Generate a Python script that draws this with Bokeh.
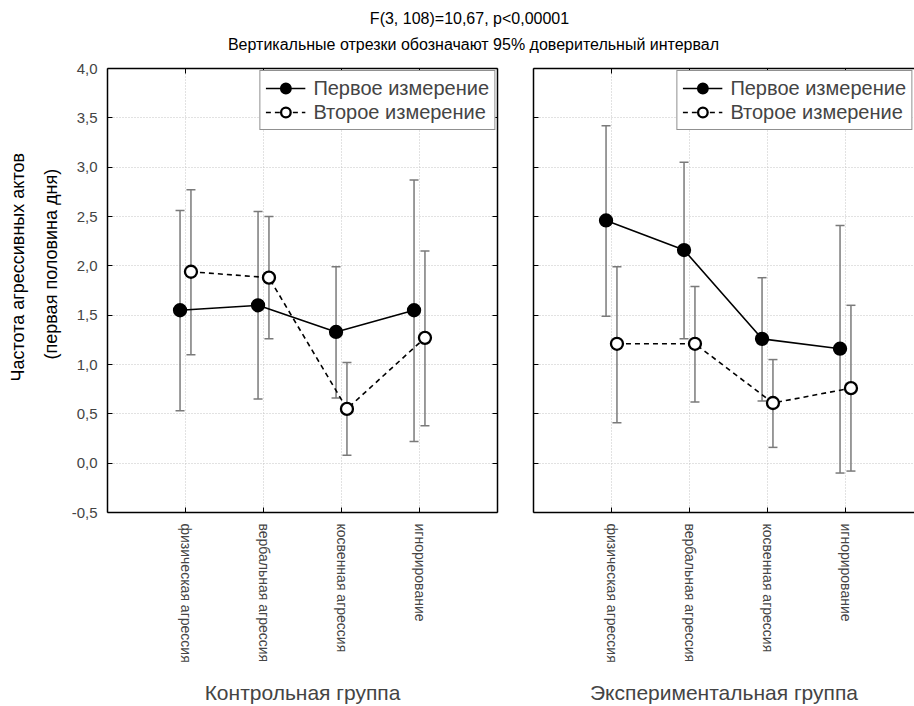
from bokeh.plotting import figure
from bokeh.models import (Range1d, FixedTicker, LinearAxis, CustomJSTickFormatter, Whisker,
                          TeeHead, ColumnDataSource, Legend, LegendItem, Label, Grid, Title)
from bokeh.layouts import column, row
from bokeh.embed import file_html
from bokeh.resources import INLINE

# ---------------- data ----------------
title1 = "F(3, 108)=10,67, p<0,00001"
title2 = "Вертикальные отрезки обозначают 95% доверительный интервал"
y_label_lines = ["Частота агрессивных актов", "(первая половина дня)"]
series_names = ["Первое измерение", "Второе измерение"]
group_names = ["Контрольная группа", "Экспериментальная группа"]

categories = ["физическая агрессия", "вербальная агрессия", "косвенная агрессия", "игнорирование"]
cat_pos = [1, 2, 3, 4]
y_ticks = [-0.5, 0.0, 0.5, 1.0, 1.5, 2.0, 2.5, 3.0, 3.5, 4.0]

# control group
ctrl_m1 = [1.55, 1.60, 1.33, 1.55]
ctrl_m1_lo = [0.53, 0.65, 0.66, 0.22]
ctrl_m1_hi = [2.56, 2.55, 1.99, 2.87]
ctrl_m2 = [1.94, 1.88, 0.55, 1.27]
ctrl_m2_lo = [1.10, 1.26, 0.08, 0.38]
ctrl_m2_hi = [2.77, 2.50, 1.02, 2.15]

# experimental group
exp_m1 = [2.46, 2.16, 1.26, 1.16]
exp_m1_lo = [1.49, 1.26, 0.63, -0.10]
exp_m1_hi = [3.42, 3.05, 1.88, 2.41]
exp_m2 = [1.21, 1.21, 0.61, 0.76]
exp_m2_lo = [0.41, 0.62, 0.16, -0.08]
exp_m2_hi = [1.99, 1.79, 1.05, 1.60]

# ---------------- style ----------------
FONT = "Liberation Sans"
GRAY = "#7a7a7a"
GRID = "#c4c4c4"
FIG_H = 650
OFFSET = 0.07


def strip_grids(p):
    p.center = [r for r in p.center if not isinstance(r, Grid)]


def add_axis(p, place, ticker, labels=True, **kw):
    ax = LinearAxis(ticker=ticker)
    ax.major_tick_in = 5
    ax.major_tick_out = 0
    ax.minor_tick_line_color = None
    ax.axis_line_width = 1.5
    ax.axis_line_color = "black"
    ax.major_tick_line_color = "black"
    if not labels:
        ax.formatter = CustomJSTickFormatter(code="return '';")
        ax.major_label_text_color = None
        ax.major_label_standoff = 0
    for k, v in kw.items():
        setattr(ax, k, v)
    p.add_layout(ax, place)
    return ax


def make_panel(group_label, m1, m1_lo, m1_hi, m2, m2_lo, m2_hi,
               width, border_left, border_right, x_end, first):
    p = figure(width=width, height=FIG_H, x_range=Range1d(0, x_end), y_range=Range1d(-0.5, 4.0),
               output_backend="svg", toolbar_location=None,
               min_border_left=border_left, min_border_right=border_right,
               min_border_top=12, min_border_bottom=189,
               x_axis_location=None, y_axis_location=None)
    strip_grids(p)
    p.outline_line_color = None
    p.background_fill_color = "white"

    # grids
    p.add_layout(Grid(dimension=0, ticker=FixedTicker(ticks=cat_pos), grid_line_color=GRID,
                      grid_line_dash="1 2", grid_line_width=1))
    p.add_layout(Grid(dimension=1, ticker=FixedTicker(ticks=y_ticks), grid_line_color=GRID,
                      grid_line_dash="1 2", grid_line_width=1))

    # axes
    add_axis(p, "below", FixedTicker(ticks=cat_pos),
             major_label_overrides={c: lab for c, lab in zip(cat_pos, categories)},
             major_label_orientation="vertical",
             major_label_text_font=FONT, major_label_text_font_size="14px",
             major_label_standoff=11,
             axis_label=group_label, axis_label_text_font=FONT,
             axis_label_text_font_size="21px", axis_label_text_font_style="normal",
             axis_label_standoff=15)
    add_axis(p, "above", FixedTicker(ticks=cat_pos), labels=False)
    if first:
        add_axis(p, "left", FixedTicker(ticks=y_ticks),
                 formatter=CustomJSTickFormatter(code="return tick.toFixed(1).replace('.', ',');"),
                 major_label_text_font=FONT, major_label_text_font_size="15px",
                 major_label_standoff=10)
        add_axis(p, "right", FixedTicker(ticks=y_ticks), labels=False)
        # two-line y-axis title (inner line added first); offset measured from frame bottom
        p.add_layout(Title(text=y_label_lines[1], align="left", offset=153, standoff=16,
                           text_font=FONT, text_font_size="18px", text_font_style="normal",
                           text_color="black"), "left")
        p.add_layout(Title(text=y_label_lines[0], align="left", offset=131, standoff=5,
                           text_font=FONT, text_font_size="18px", text_font_style="normal",
                           text_color="black"), "left")
    else:
        add_axis(p, "left", FixedTicker(ticks=y_ticks), labels=False)

    x1 = [c - OFFSET for c in cat_pos]
    x2 = [c + OFFSET for c in cat_pos]

    renderers = []
    for xs, ys, lo, hi, dash, fill in ((x1, m1, m1_lo, m1_hi, "solid", "black"),
                                        (x2, m2, m2_lo, m2_hi, "5 4", "white")):
        src = ColumnDataSource(dict(x=xs, y=ys, lo=lo, hi=hi))
        w = Whisker(base="x", lower="lo", upper="hi", source=src, dimension="height",
                    line_color=GRAY, line_width=1.5,
                    upper_head=TeeHead(size=9, line_color=GRAY, line_width=1.5),
                    lower_head=TeeHead(size=9, line_color=GRAY, line_width=1.5))
        p.add_layout(w)
        ln = p.line("x", "y", source=src, line_color="black", line_width=1.6, line_dash=dash)
        sc = p.scatter("x", "y", source=src, size=12, fill_color=fill, line_color="black",
                       line_width=2.3)
        renderers.append((ln, sc))

    legend = Legend(items=[LegendItem(label=series_names[0], renderers=list(renderers[0])),
                           LegendItem(label=series_names[1], renderers=list(renderers[1]))],
                    location="top_right", margin=2, padding=5, spacing=0,
                    label_text_font=FONT, label_text_font_size="20px",
                    glyph_width=40, glyph_height=24, label_height=24, label_standoff=8,
                    border_line_color="#222222", border_line_width=1.2,
                    background_fill_color="white", background_fill_alpha=1.0)
    p.add_layout(legend)
    return p


def blank_fig(width, height):
    f = figure(width=width, height=height, x_range=Range1d(0, width), y_range=Range1d(0, height),
               output_backend="svg", toolbar_location=None, min_border=0,
               x_axis_location=None, y_axis_location=None)
    strip_grids(f)
    f.outline_line_color = None
    return f


p1 = make_panel(group_names[0], ctrl_m1, ctrl_m1_lo, ctrl_m1_hi, ctrl_m2, ctrl_m2_lo, ctrl_m2_hi,
                width=515, border_left=107, border_right=18, x_end=5.0, first=True)
p2 = make_panel(group_names[1], exp_m1, exp_m1_lo, exp_m1_hi, exp_m2, exp_m2_lo, exp_m2_hi,
                width=399, border_left=18, border_right=0, x_end=381 / 78.0, first=False)

t = blank_fig(914, 56)
t.add_layout(Label(x=469, y=38, text=title1, text_align="center", text_baseline="middle",
                   text_font=FONT, text_font_size="16px", text_color="black"))
t.add_layout(Label(x=473, y=12, text=title2, text_align="center", text_baseline="middle",
                   text_font=FONT, text_font_size="16px", text_color="black"))

layout = column(t, row(p1, p2))

with open("out.html", "w") as f:
    f.write(file_html(layout, INLINE))
